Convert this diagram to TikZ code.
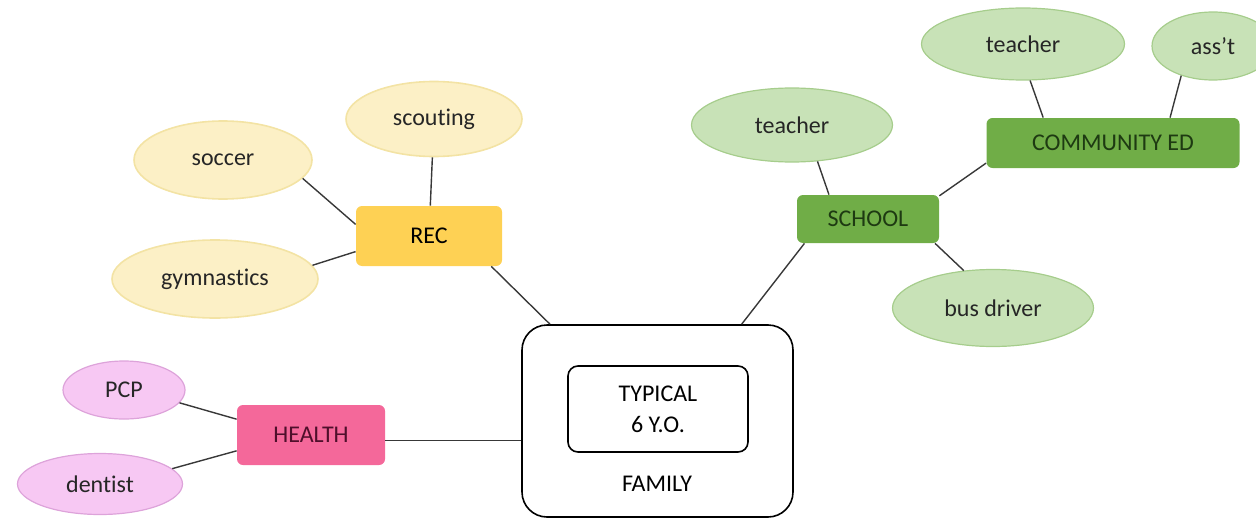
\documentclass[tikz,border=0pt]{standalone}
\usepackage{fontspec}
\setmainfont[Ligatures=NoCommon]{Carlito}
\usetikzlibrary{positioning,shapes.geometric}
\definecolor{recleaf}{HTML}{FCF0C6}
\definecolor{recedge}{HTML}{F3E3A4}
\definecolor{recfill}{HTML}{FED154}
\definecolor{schleaf}{HTML}{C8E2B7}
\definecolor{schedge}{HTML}{A6CD8C}
\definecolor{schfill}{HTML}{70AD47}
\definecolor{schtext}{HTML}{1E3A12}
\definecolor{hltleaf}{HTML}{F7C8F3}
\definecolor{hltedge}{HTML}{DDA3DA}
\definecolor{hltfill}{HTML}{F4689A}
\definecolor{hlttext}{HTML}{4F0F2B}
\definecolor{linkcol}{HTML}{383838}
\tikzstyle{leaf} = [ellipse, inner sep=0pt, text centered, text=black!85]
\tikzstyle{recbubble} = [leaf, fill=recleaf, draw=recedge, line width=0.8pt]
\tikzstyle{schbubble} = [leaf, fill=schleaf, draw=schedge, line width=0.6pt]
\tikzstyle{hltbubble} = [leaf, fill=hltleaf, draw=hltedge, line width=0.6pt]
\tikzstyle{hub} = [rectangle, rounded corners=3pt, text centered, inner sep=0pt]
\tikzstyle{link} = [line width=0.7pt, draw=linkcol]

\begin{document}
\begin{tikzpicture}[x=0.5pt, y=-0.5pt, font=\fontsize{12}{15.5}\selectfont]
        \useasboundingbox (0,0) rectangle (1256,519);

        % family in the middle
        \node (family) [rectangle, draw=black, line width=0.8pt, rounded corners=12.5pt, minimum width=135.5pt, minimum height=96pt] at (657.5,421) {};
        \node (child) [rectangle, draw=black, line width=0.8pt, rounded corners=5pt, minimum width=90pt, minimum height=43pt, align=center] at (658,409) {TYPICAL\\6 Y.O.};
        \node (familylabel) at (657,484) {FAMILY};

        % rec
        \node (rec) [hub, fill=recfill, minimum width=73pt, minimum height=30pt] at (429,236) {REC};
        \node (soccer) [recbubble, minimum width=89pt, minimum height=39pt] at (223,160) {soccer};
        \node (scouting) [recbubble, minimum width=88pt, minimum height=37.5pt] at (434,119) {scouting};
        \node (gymnastics) [recbubble, minimum width=103pt, minimum height=39pt] at (215,279) {gymnastics};

        \draw [link] (soccer.-13) -- (rec.171);
        \draw [link] (scouting) -- (rec);
        \draw [link] (gymnastics.8) -- (rec.192);
        \draw [link] (rec.-26) -- (family.138);

        % school
        \node (school) [hub, fill=schfill, text=schtext, minimum width=71pt, minimum height=24pt] at (868,219) {SCHOOL};
        \node (community) [hub, fill=schfill, text=schtext, minimum width=126.5pt, minimum height=25pt] at (1113,143) {COMMUNITY ED};
        \node (schoolteacher) [schbubble, minimum width=100.5pt, minimum height=37pt] at (792,125) {teacher};
        \node (busdriver) [schbubble, minimum width=100.5pt, minimum height=38.5pt] at (993,308) {bus driver};
        \node (commteacher) [schbubble, minimum width=101.5pt, minimum height=36pt] at (1023,44) {teacher};
        \node (assistant) [schbubble, minimum width=61pt, minimum height=34pt] at (1213,46) {ass’t};

        \draw [link] (schoolteacher.-55) -- (school.148);
        \draw [link] (school.18) -- (community.189);
        \draw [link] (school.-20) -- (busdriver.128);
        \draw [link] (school.201) -- (family.49);
        \draw [link] (commteacher.-79) -- (community.160);
        \draw [link] (assistant.223) -- (community.24);

        % health
        \node (health) [hub, fill=hltfill, text=hlttext, minimum width=74pt, minimum height=30pt] at (311,435) {HEALTH};
        \node (pcp) [hltbubble, minimum width=61pt, minimum height=29pt] at (124,390) {PCP};
        \node (dentist) [hltbubble, minimum width=82.5pt, minimum height=30.5pt] at (100,484) {dentist};

        \draw [link] (pcp.-13) -- (health.168);
        \draw [link] (dentist.12) -- (health.192);
        \draw [link] (health.-4) -- (health.-4 -| family.west);

\end{tikzpicture}
\end{document}
